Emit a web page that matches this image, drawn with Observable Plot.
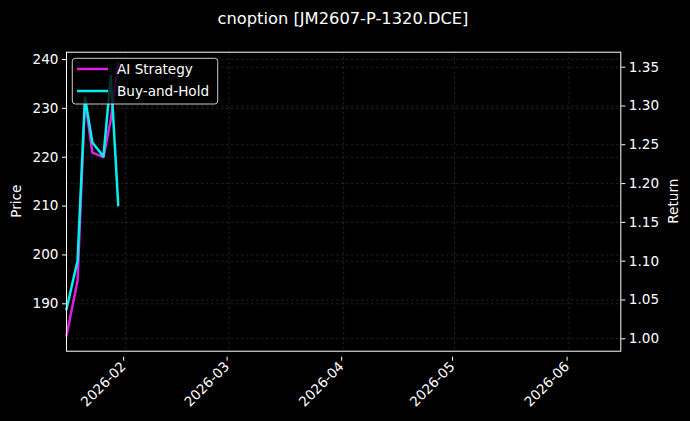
<!DOCTYPE html>
<html>
<head>
<meta charset="utf-8">
<script src="https://cdn.jsdelivr.net/npm/d3@7"></script>
<script src="https://cdn.jsdelivr.net/npm/@observablehq/plot@0.6"></script>
<style>
  html, body { margin: 0; padding: 0; background: #000; }
  #chart { width: 690px; height: 421px; }
</style>
</head>
<body>
<div id="chart"></div>
<script>
const titleText = "cnoption [JM2607-P-1320.DCE]";
const seriesNames = ["AI Strategy", "Buy-and-Hold"];
const seriesColors = ["#e020e0", "#00f0f0"];
const dates = ["2026-01-16", "2026-01-19", "2026-01-21", "2026-01-23", "2026-01-26", "2026-01-28", "2026-01-30"];
const aiReturn = [1.004, 1.075, 1.308, 1.240, 1.234, 1.283, 1.356];
const bhReturn = [1.038, 1.101, 1.311, 1.253, 1.235, 1.339, 1.172];
const priceTicks = [190, 200, 210, 220, 230, 240];
const returnTicks = [1.00, 1.05, 1.10, 1.15, 1.20, 1.25, 1.30, 1.35];
const monthTicks = ["2026-02-01", "2026-03-01", "2026-04-01", "2026-05-01", "2026-06-01"].map(d => new Date(d));
const xDomain = [new Date("2026-01-16"), new Date("2026-06-15")];
const priceDomain = [180.3, 241.5];
const returnDomain = [0.984, 1.3693];

const p2r = p => returnDomain[0] + (p - priceDomain[0]) * (returnDomain[1] - returnDomain[0]) / (priceDomain[1] - priceDomain[0]);

const rows = dates.map((d, i) => ({date: new Date(d), ai: aiReturn[i], bh: bhReturn[i]}));

const gridStyle = {stroke: "#8a8a8a", strokeOpacity: 0.35, strokeWidth: 0.7, strokeDasharray: "2.5,2.5"};

const chart = Plot.plot({
  width: 690,
  height: 421,
  marginTop: 51.7,
  marginLeft: 66,
  marginRight: 69.7,
  marginBottom: 70.3,
  style: {background: "#000", color: "#fff", fontFamily: "DejaVu Sans", fontSize: "13.6px"},
  x: {type: "utc", domain: xDomain},
  y: {domain: returnDomain},
  marks: [
    Plot.gridX(monthTicks, gridStyle),
    Plot.gridY(returnTicks, gridStyle),
    Plot.gridY(priceTicks.map(p2r), gridStyle),
    Plot.lineY(rows, {x: "date", y: "ai", stroke: seriesColors[0], strokeWidth: 2.5}),
    Plot.lineY(rows, {x: "date", y: "bh", stroke: seriesColors[1], strokeWidth: 2.5}),
    Plot.frame({stroke: "#fff", strokeWidth: 1}),
    Plot.axisX(monthTicks, {tickFormat: d3.utcFormat("%Y-%m"), tickRotate: -45, tickSize: 4, tickPadding: 3, dx: -2, dy: 6, label: null, fontSize: "13.6px"}),
    Plot.axisY(priceTicks.map(p2r), {anchor: "left", tickFormat: (d, i) => String(priceTicks[i]), tickSize: 4, tickPadding: 4, label: null}),
    Plot.axisY(returnTicks, {anchor: "right", tickFormat: d3.format(".2f"), tickSize: 4, tickPadding: 4, label: null})
  ]
});

document.getElementById("chart").appendChild(chart);

const svg = d3.select(chart);
const midY = (51.7 + 350.7) / 2;
svg.append("text").attr("x", 343).attr("y", 24).attr("text-anchor", "middle")
  .attr("fill", "#fff").attr("font-size", "16.3px").text(titleText);
svg.append("text").attr("transform", `translate(21,${midY}) rotate(-90)`).attr("text-anchor", "middle")
  .attr("fill", "#fff").attr("font-size", "13.6px").text("Price");
svg.append("text").attr("transform", `translate(678,${midY}) rotate(-90)`).attr("text-anchor", "middle")
  .attr("fill", "#fff").attr("font-size", "13.6px").text("Return");

const lg = svg.append("g").attr("text-anchor", "start");
lg.append("rect").attr("x", 72.3).attr("y", 58.3).attr("width", 145.4).attr("height", 45.7).attr("rx", 3)
  .attr("fill", "#000").attr("fill-opacity", 0.8).attr("stroke", "#cccccc").attr("stroke-width", 1);
seriesNames.forEach((name, i) => {
  const y = 69 + i * 22;
  lg.append("line").attr("x1", 77).attr("x2", 108).attr("y1", y).attr("y2", y)
    .attr("stroke", seriesColors[i]).attr("stroke-width", 2.5);
  lg.append("text").attr("x", 117).attr("y", y + 5).attr("text-anchor", "start")
    .attr("fill", "#fff").attr("font-size", "13.6px").text(name);
});
</script>
</body>
</html>
